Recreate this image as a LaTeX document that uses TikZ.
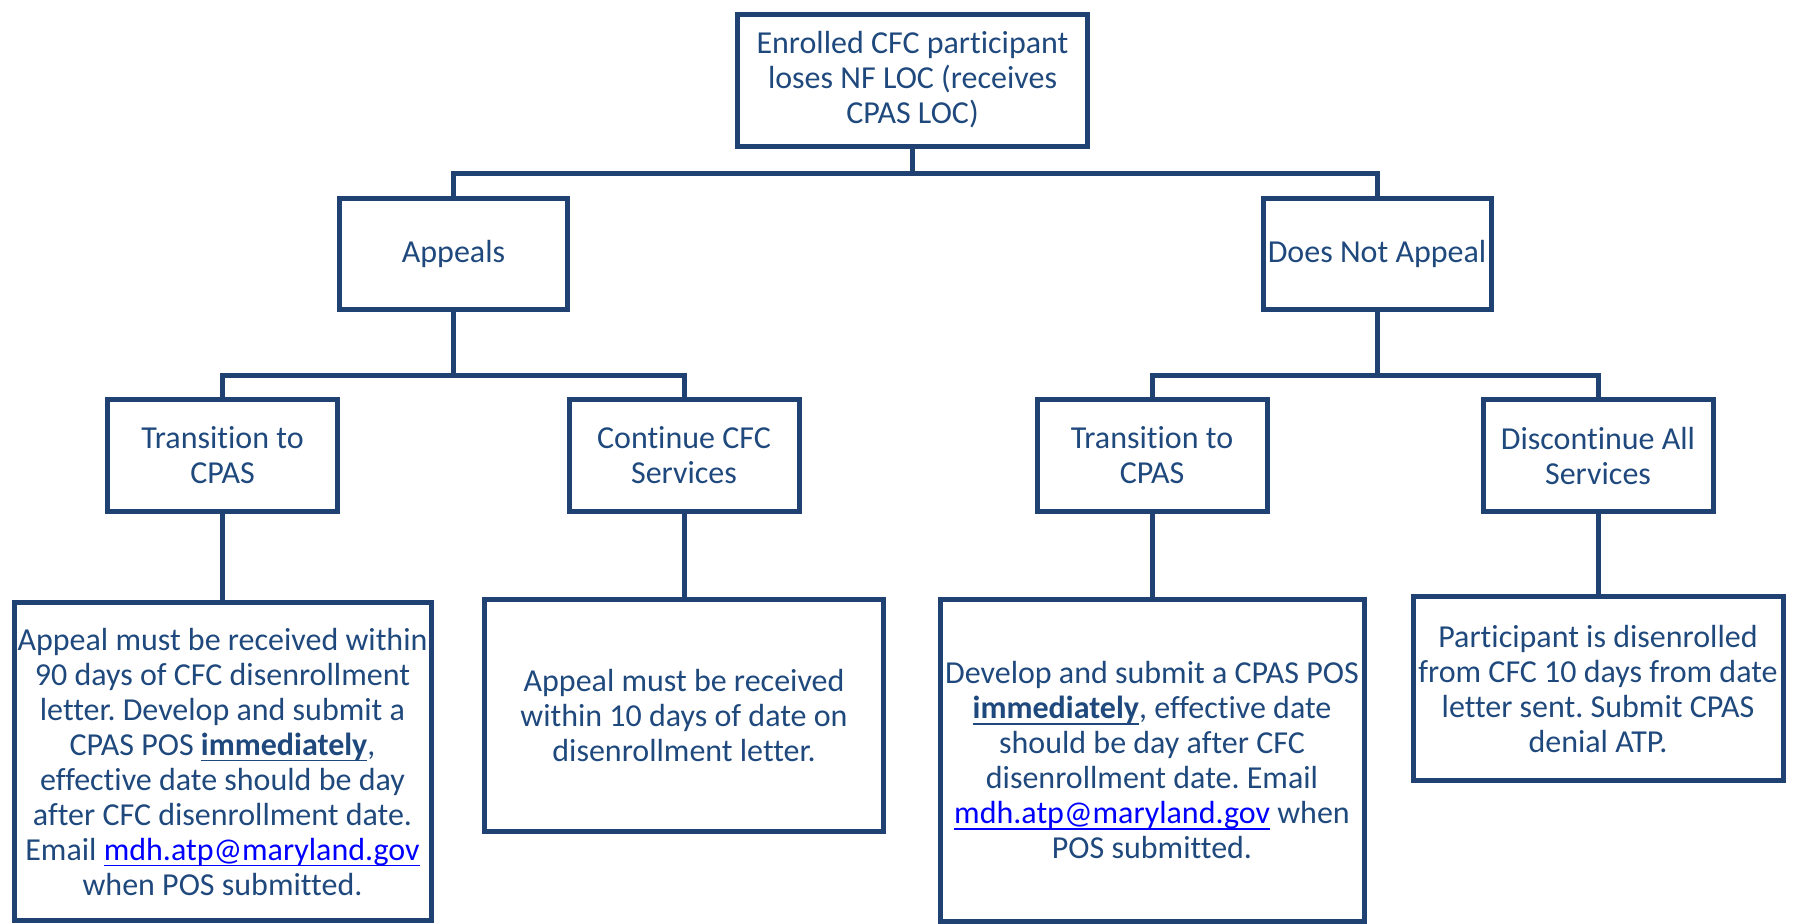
\documentclass[tikz,border=0pt]{standalone}
\usepackage{fontspec}
\setmainfont{Carlito}[Ligatures={NoCommon}]
\frenchspacing
\definecolor{navy}{RGB}{31,66,114}
\definecolor{inkblue}{RGB}{31,73,125}
\newcommand{\thickul}[1]{\leavevmode\setbox0\hbox{#1}\rlap{\rule[-3.2pt]{\wd0}{0.9pt}}\box0}
\newcommand{\maillink}[1]{\textcolor{blue}{\thickul{#1}}}
\newcommand{\stress}[1]{\thickul{\textbf{#1}}}
\tikzstyle{box} = [rectangle, draw=navy, line width=2.5pt, text=inkblue, align=center, inner sep=1pt, font=\fontsize{16}{17.5}\selectfont]
\tikzstyle{headbox} = [box, minimum width=175pt, minimum height=66pt]
\tikzstyle{choice} = [box, minimum width=114pt, minimum height=55.5pt]
\tikzstyle{option} = [box, minimum width=115pt, minimum height=56pt]
\tikzstyle{note} = [box]
\tikzstyle{line} = [draw=navy, line width=2.5pt]

\begin{document}
\begin{tikzpicture}[x=1pt, y=1pt, node distance=87pt]
\useasboundingbox (0,0) rectangle (899.5,-461.5);

% Nodes
\node (enrolled) [headbox] at (456.25,-40) {Enrolled CFC participant\\loses NF LOC (receives\\CPAS LOC)};
\node (appeals) [choice, below of=enrolled, xshift=-229.5pt] {Appeals};
\node (noappeal) [choice, below of=enrolled, xshift=232.25pt] {Does Not Appeal};
\node (transA) [option, below of=appeals, xshift=-115.5pt, yshift=-13.75pt] {Transition to\\CPAS};
\node (continue) [option, below of=appeals, xshift=115.25pt, yshift=-13.75pt] {Continue CFC\\Services};
\node (transB) [option, below of=noappeal, xshift=-112.5pt, yshift=-13.75pt] {Transition to\\CPAS};
\node (discontinue) [option, below of=noappeal, xshift=110.5pt, yshift=-13.75pt] {Discontinue All\\Services};
\node (noteA) [note, minimum width=208.5pt, minimum height=159pt, below of=transA, yshift=-66pt] {Appeal must be received within\\90 days of CFC disenrollment\\letter. Develop and submit a\\CPAS POS \stress{immediately},\\effective date should be day\\after CFC disenrollment date.\\Email \maillink{mdh.atp@maryland.gov}\\when POS submitted.};
\node (noteB) [note, minimum width=199.5pt, minimum height=116pt, below of=continue, yshift=-43pt] {Appeal must be received\\within 10 days of date on\\disenrollment letter.};
\node (noteC) [note, minimum width=212pt, minimum height=161pt, below of=transB, yshift=-65.25pt] {Develop and submit a CPAS POS\\\stress{immediately}, effective date\\should be day after CFC\\disenrollment date. Email\\\maillink{mdh.atp@maryland.gov} when\\POS submitted.};
\node (noteD) [note, minimum width=185pt, minimum height=92pt, below of=discontinue, yshift=-29.5pt] {Participant is disenrolled\\from CFC 10 days from date\\letter sent. Submit CPAS\\denial ATP.};

% Lines
\draw [line] (enrolled.south) -- ++(0,-12.5) coordinate (forktop);
\draw [line] (appeals.north) |- (forktop) -| (noappeal.north);
\draw [line] (appeals.south) -- ++(0,-31.75) coordinate (forkleft);
\draw [line] (transA.north) |- (forkleft) -| (continue.north);
\draw [line] (noappeal.south) -- ++(0,-31.75) coordinate (forkright);
\draw [line] (transB.north) |- (forkright) -| (discontinue.north);
\draw [line] (transA) -- (noteA);
\draw [line] (continue) -- (noteB);
\draw [line] (transB) -- (noteC);
\draw [line] (discontinue) -- (noteD);

\end{tikzpicture}
\end{document}
